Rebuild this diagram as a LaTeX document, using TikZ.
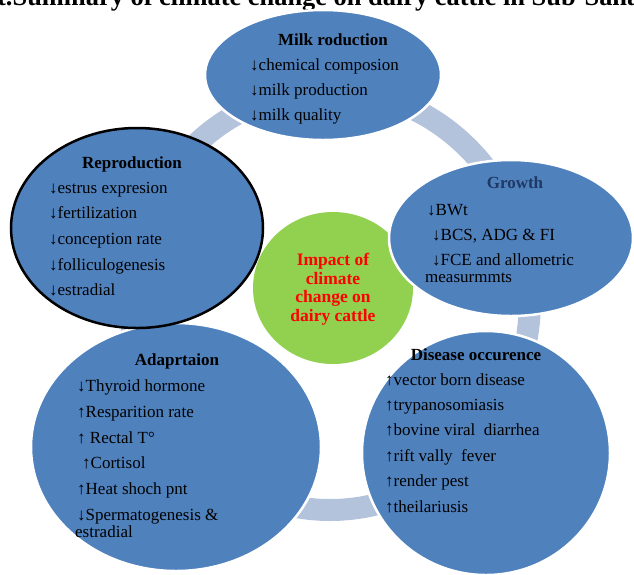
\documentclass[tikz,border=0pt]{standalone}
\usepackage{fontspec}
\setmainfont{Liberation Serif}
\usetikzlibrary{shapes.geometric}
\definecolor{blobblue}{HTML}{4F81BD}
\definecolor{ringblue}{HTML}{B4C3DC}
\definecolor{hubgreen}{HTML}{92D050}
\definecolor{headnavy}{HTML}{1F3864}
\tikzstyle{blob} = [ellipse, fill=blobblue, draw=white, line width=2.5pt, inner sep=0pt]
\tikzstyle{ring} = [draw=ringblue, line width=22pt]
\tikzstyle{head} = [font=\fontsize{17}{20}\selectfont\bfseries, inner sep=0pt, anchor=base]
\tikzstyle{item} = [font=\fontsize{17}{20}\selectfont, inner sep=0pt, anchor=base west]
\begin{document}
\begin{tikzpicture}[x=1pt, y=-1pt]
  \useasboundingbox (0,0) rectangle (634,574);
  \clip (0,0) rectangle (634,574);

  \node[font=\fontsize{26.4}{30}\selectfont\bfseries, inner sep=0pt, anchor=base west] (title) at (-3,5)
    {t.Summary of climate change on dairy cattle in Sub-Sahara};

  % ring behind the circles
  \coordinate (ringc) at (330,300);
  \draw[ring] (ringc) ellipse [x radius=200, y radius=210];

  \node[ellipse, fill=hubgreen, minimum width=160pt, minimum height=152pt, inner sep=0pt] (hub) at (333,288) {};
  \node[blob, minimum width=236pt, minimum height=130pt] (milk) at (323,75) {};
  \node[blob, minimum width=244pt, minimum height=156pt] (growth) at (511,238) {};
  \node[blob, minimum width=248pt, minimum height=244pt] (disease) at (486,453) {};
  \node[blob, minimum width=290pt, minimum height=248pt] (adapt) at (176,447) {};
  \node[blob, draw=black, minimum width=252pt, minimum height=200pt] (repro) at (137,228) {};

  \node[font=\fontsize{17.5}{18.5}\selectfont\bfseries, text=red, align=center, inner sep=0pt] (hubtxt) at (333,289)
    {Impact of\\climate\\change on\\dairy cattle};

  % milk
  \node[head] (milkhd) at (333,45) {Milk roduction};
  \foreach \t [count=\i from 0] in {↓chemical composion, ↓milk production, ↓milk quality}
    \node[item] (milk\i) at (250,70+25*\i) {\t};

  % reproduction
  \node[head] (reprohd) at (132,168) {Reproduction};
  \foreach \t [count=\i from 0] in {↓estrus expresion, ↓fertilization, ↓conception rate, ↓folliculogenesis, ↓estradial}
    \node[item] (repro\i) at (49,193+25.7*\i) {\t};

  % growth
  \node[head, text=headnavy] (growthhd) at (515,188) {Growth};
  \node[item] (growth0) at (427,215) {↓BWt};
  \node[item] (growth1) at (432,240) {↓BCS, ADG \& FI};
  \node[item] (growth2) at (432,265) {↓FCE and allometric};
  \node[item] (growth3) at (425,282) {measurmmts};

  % disease
  \node[head] (diseasehd) at (476,360) {Disease occurence};
  \foreach \t [count=\i from 0] in {↑vector born disease, ↑trypanosomiasis, ↑bovine viral\ \ diarrhea,
      ↑rift vally\ \ fever, ↑render pest, ↑theilariusis}
    \node[item] (disease\i) at (385,385+25.4*\i) {\t};

  % adaptation
  \node[head] (adapthd) at (177,365) {Adaprtaion};
  \node[item] (adapt0) at (77,391) {↓Thyroid hormone};
  \node[item] (adapt1) at (77,417) {↑Resparition rate};
  \node[item] (adapt2) at (77,443) {↑ Rectal T°};
  \node[item] (adapt3) at (82,468) {↑Cortisol};
  \node[item] (adapt4) at (77,494) {↑Heat shoch pnt};
  \node[item] (adapt5) at (77,520) {↓Spermatogenesis \&};
  \node[item] (adapt6) at (75,537) {estradial};
\end{tikzpicture}
\end{document}
